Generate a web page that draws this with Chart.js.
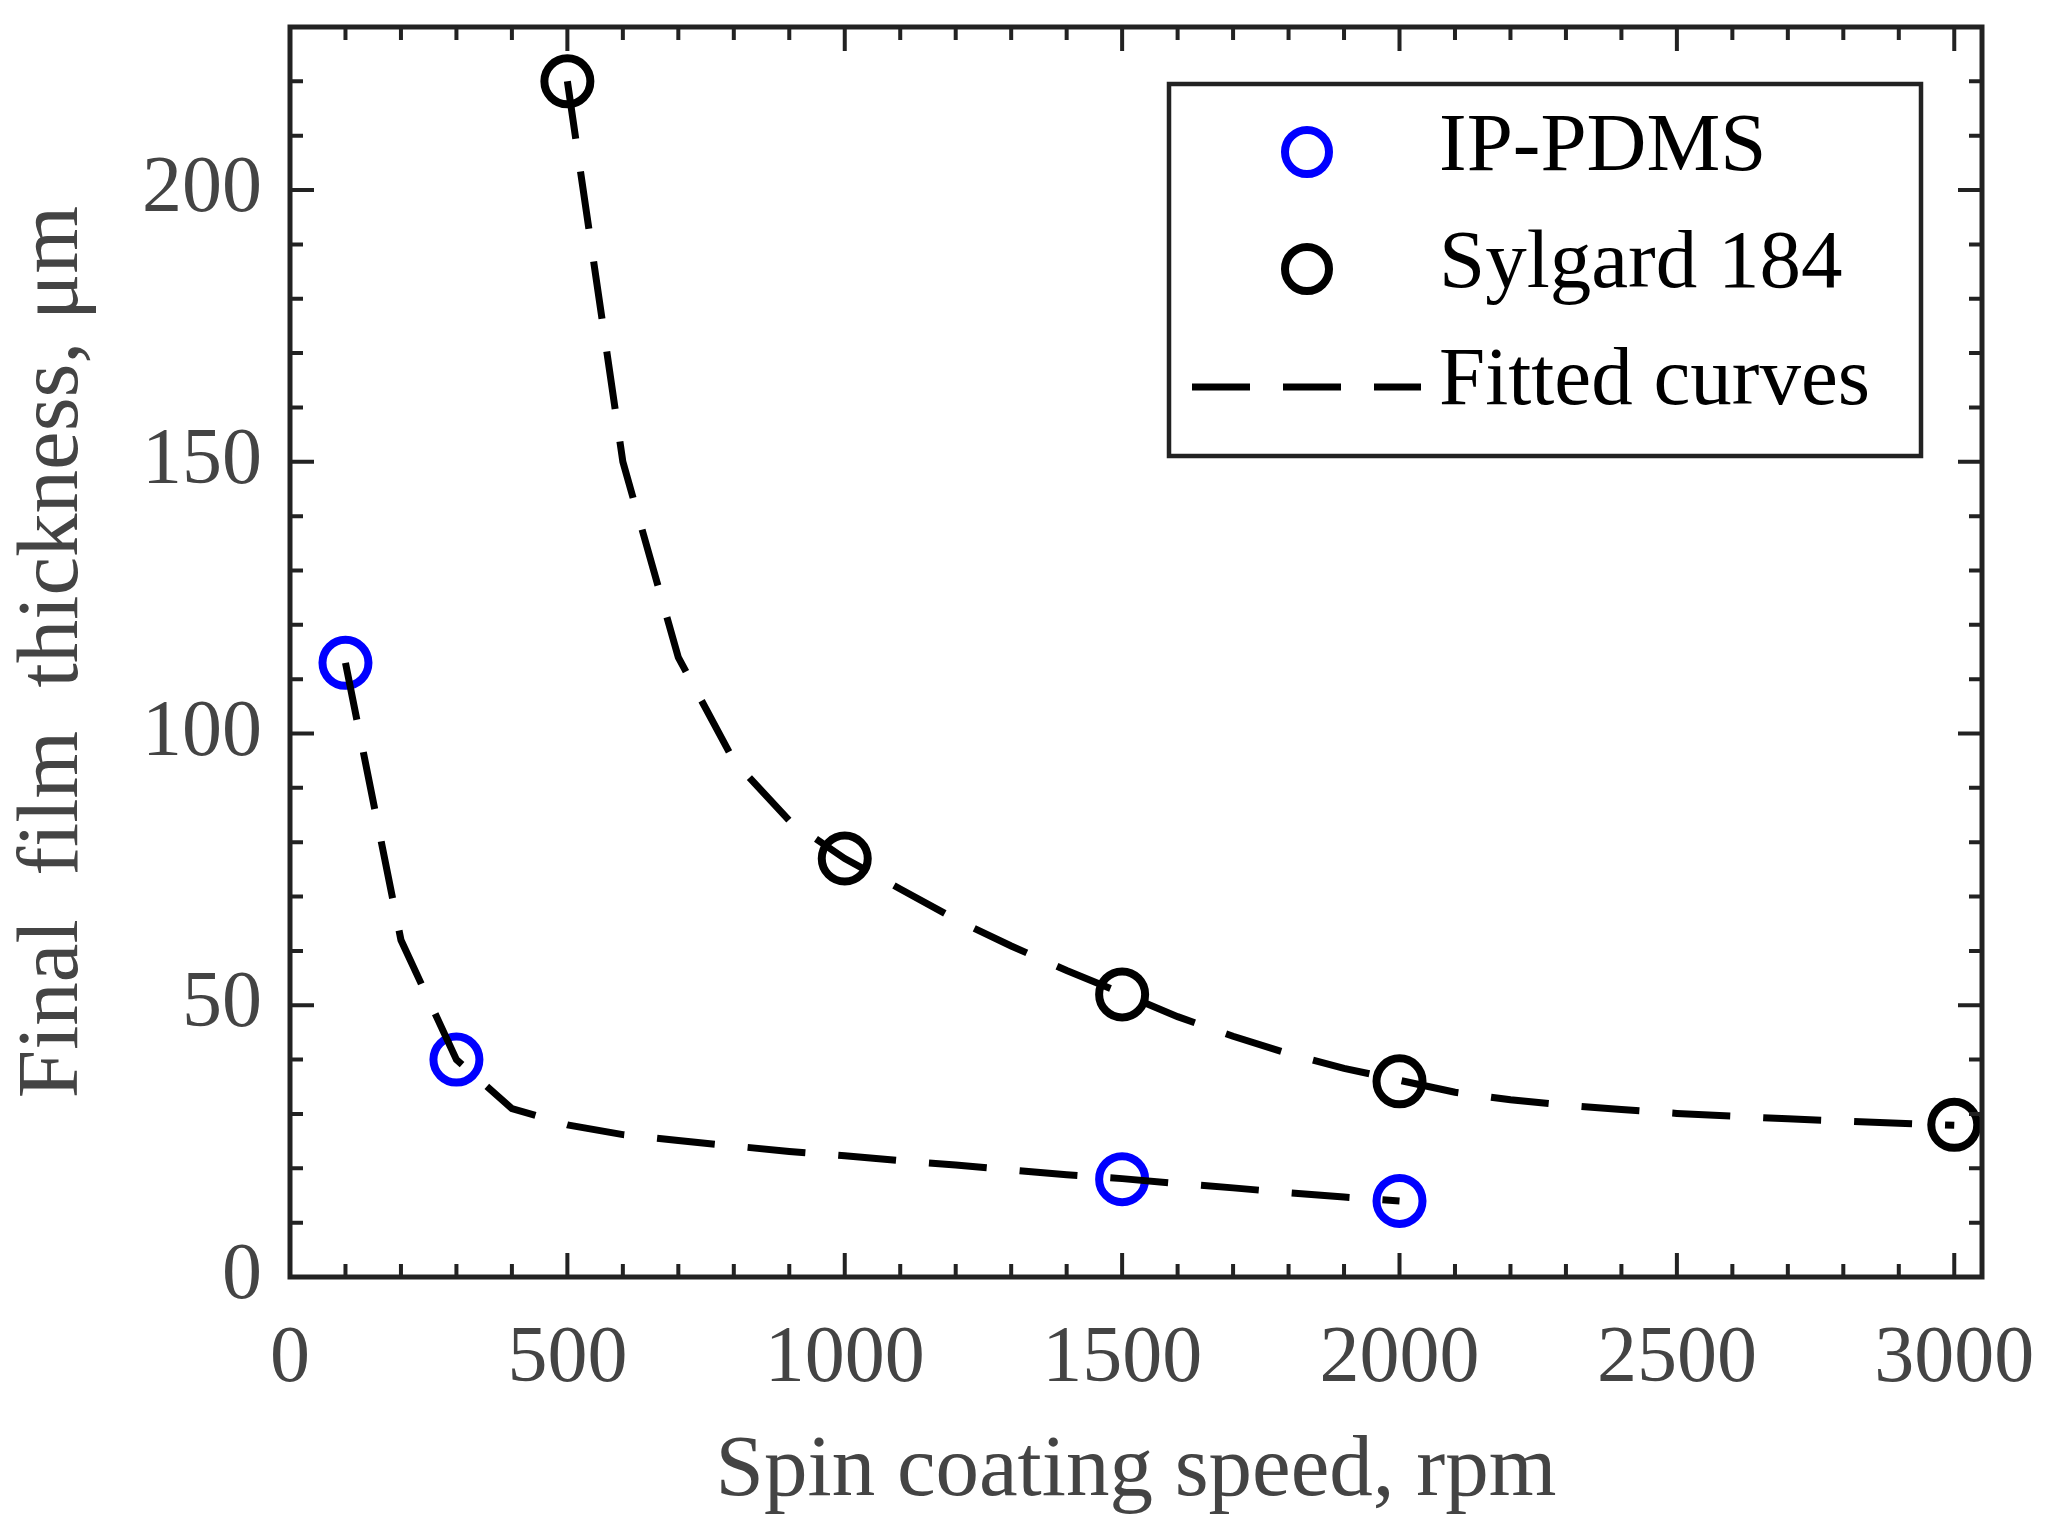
<!DOCTYPE html>
<html>
<head>
<meta charset="utf-8">
<script src="https://cdn.jsdelivr.net/npm/chart.js@4.4.1/dist/chart.umd.min.js"></script>
<style>
  html, body { margin: 0; padding: 0; background: #fff; }
  canvas { display: block; }
</style>
</head>
<body>
<canvas id="myChart" width="2054" height="1536" style="width:2054px;height:1536px"></canvas>
<script>
'use strict';

// measured points
const ipSpeed = [100, 300, 1500, 2000];
const ipThickness = [113, 40, 18, 14];
const sylSpeed = [500, 1000, 1500, 2000, 3000];
const sylThickness = [220, 77, 52, 36, 28];

// fitted curves
const ipFitSpeed = [100, 200, 300, 400, 500, 600, 700, 800, 900, 1000,
  1100, 1200, 1300, 1400, 1500, 1600, 1700, 1800, 1900, 2000];
const ipFitThickness = [113, 62, 40, 31, 28, 26.2, 25.1, 24.1, 23.1, 22.3,
  21.4, 20.6, 19.7, 18.8, 18.1, 17.2, 16.4, 15.5, 14.7, 14];
const sylFitSpeed = [500, 600, 700, 800, 900, 1000, 1100, 1200, 1300, 1400,
  1500, 1600, 1700, 1800, 1900, 2000, 2100, 2200, 2300, 2400,
  2500, 2600, 2700, 2800, 2900, 3000];
const sylFitThickness = [220, 150, 114, 95, 84, 77, 71.4, 65.8, 60.9, 56.4,
  52.2, 47.9, 44.3, 41.1, 38.4, 36.2, 34, 32.6, 31.6, 30.8,
  30.1, 29.6, 29.1, 28.7, 28.3, 27.9];

const xTickLabels = [0, 500, 1000, 1500, 2000, 2500, 3000];
const yTickLabels = [0, 50, 100, 150, 200];
const legendLabels = ['IP-PDMS', 'Sylgard 184', 'Fitted curves'];

const FONT = "'Liberation Serif', 'DejaVu Serif', serif";
const FRAME = '#222222';
const DASH = [58, 33];

function toPoints(xs, ys) {
  return xs.map((v, i) => ({x: v, y: ys[i]}));
}

// box with inward ticks on all four sides
const frameTicks = {
  id: 'frameTicks',
  afterDatasetsDraw(chart) {
    const {ctx, chartArea: a, scales: {x, y}} = chart;
    ctx.save();
    ctx.strokeStyle = FRAME;
    ctx.lineWidth = 4;
    ctx.beginPath();
    for (let v = 100; v < 3050; v += 100) {
      const px = x.getPixelForValue(v);
      const len = v % 500 === 0 ? 24 : 13;
      ctx.moveTo(px, a.bottom); ctx.lineTo(px, a.bottom - len);
      ctx.moveTo(px, a.top); ctx.lineTo(px, a.top + len);
    }
    for (let v = 10; v < 230; v += 10) {
      const py = y.getPixelForValue(v);
      const len = v % 50 === 0 ? 24 : 13;
      ctx.moveTo(a.left, py); ctx.lineTo(a.left + len, py);
      ctx.moveTo(a.right, py); ctx.lineTo(a.right - len, py);
    }
    ctx.stroke();
    ctx.lineWidth = 5;
    ctx.strokeRect(a.left, a.top, a.right - a.left, a.bottom - a.top);
    ctx.restore();
  }
};

// legend box in the upper right corner
const boxLegend = {
  id: 'boxLegend',
  afterDraw(chart) {
    const {ctx, chartArea: a} = chart;
    const left = a.right - 813, right = a.right - 61;
    const top = a.top + 57, bottom = a.top + 429;
    ctx.save();
    ctx.fillStyle = '#fff';
    ctx.fillRect(left, top, right - left, bottom - top);
    ctx.strokeStyle = FRAME;
    ctx.lineWidth = 4.5;
    ctx.strokeRect(left, top, right - left, bottom - top);

    const base = [top + 86, top + 203, top + 320];
    const colors = ['#0000ff', '#000000'];
    ctx.lineWidth = 8;
    for (let i = 0; i < 2; i++) {
      ctx.strokeStyle = colors[i];
      ctx.beginPath();
      ctx.arc(left + 138, base[i] - 18, 22, 0, Math.PI * 2);
      ctx.stroke();
    }
    ctx.strokeStyle = '#000';
    ctx.lineWidth = 7;
    ctx.setLineDash(DASH);
    ctx.beginPath();
    ctx.moveTo(left + 23, base[2] - 17);
    ctx.lineTo(left + 252, base[2] - 17);
    ctx.stroke();
    ctx.setLineDash([]);

    ctx.fillStyle = '#000';
    ctx.font = '83px ' + FONT;
    ctx.textBaseline = 'alphabetic';
    ctx.textAlign = 'left';
    legendLabels.forEach((t, i) => ctx.fillText(t, left + 270, base[i]));
    ctx.restore();
  }
};

const config = {
  type: 'scatter',
  data: {
    datasets: [
      {
        label: 'IP-PDMS fit',
        data: toPoints(ipFitSpeed, ipFitThickness),
        showLine: true,
        pointRadius: 0,
        borderColor: '#000',
        borderWidth: 7,
        borderDash: DASH,
        tension: 0,
        order: 0
      },
      {
        label: 'Sylgard 184 fit',
        data: toPoints(sylFitSpeed, sylFitThickness),
        showLine: true,
        pointRadius: 0,
        borderColor: '#000',
        borderWidth: 7,
        borderDash: DASH,
        tension: 0,
        order: 0
      },
      {
        label: 'IP-PDMS',
        data: toPoints(ipSpeed, ipThickness),
        pointStyle: 'circle',
        pointRadius: 23,
        pointBorderWidth: 8,
        pointBorderColor: '#0000ff',
        pointBackgroundColor: 'rgba(0,0,0,0)',
        order: 1
      },
      {
        label: 'Sylgard 184',
        data: toPoints(sylSpeed, sylThickness),
        pointStyle: 'circle',
        pointRadius: 23,
        pointBorderWidth: 8,
        pointBorderColor: '#000000',
        pointBackgroundColor: 'rgba(0,0,0,0)',
        order: 1
      }
    ]
  },
  options: {
    responsive: false,
    devicePixelRatio: 1,
    animation: false,
    layout: { autoPadding: false, padding: { top: 27, right: 72, left: 0, bottom: 0 } },
    plugins: {
      legend: { display: false },
      tooltip: { enabled: false }
    },
    scales: {
      x: {
        type: 'linear',
        min: 0,
        max: 3050,
        grid: { display: false },
        border: { display: false },
        afterBuildTicks: s => { s.ticks = xTickLabels.map(v => ({value: v})); },
        afterFit: s => { s.height = 259; s.paddingLeft = 0; s.paddingRight = 0; },
        ticks: {
          color: '#444',
          padding: 27,
          maxRotation: 0,
          font: { family: FONT, size: 80 },
          callback: v => String(v)
        },
        title: {
          display: true,
          text: 'Spin coating speed, rpm',
          color: '#444',
          font: { family: FONT, size: 87, lineHeight: 1.2 },
          padding: { top: 0, bottom: 12 }
        }
      },
      y: {
        type: 'linear',
        min: 0,
        max: 230,
        grid: { display: false },
        border: { display: false },
        afterBuildTicks: s => { s.ticks = yTickLabels.map(v => ({value: v})); },
        afterFit: s => { s.width = 290; s.paddingTop = 0; s.paddingBottom = 0; },
        ticks: {
          color: '#444',
          padding: 20,
          font: { family: FONT, size: 80 },
          callback: v => String(v)
        },
        title: {
          display: true,
          text: 'Final  film  thickness, μm',
          color: '#444',
          font: { family: FONT, size: 87, lineHeight: 1.2 },
          padding: { top: 2, bottom: 0 }
        }
      }
    }
  },
  plugins: [frameTicks, boxLegend]
};

const myChart = new Chart(document.getElementById('myChart'), config);
</script>
</body>
</html>
